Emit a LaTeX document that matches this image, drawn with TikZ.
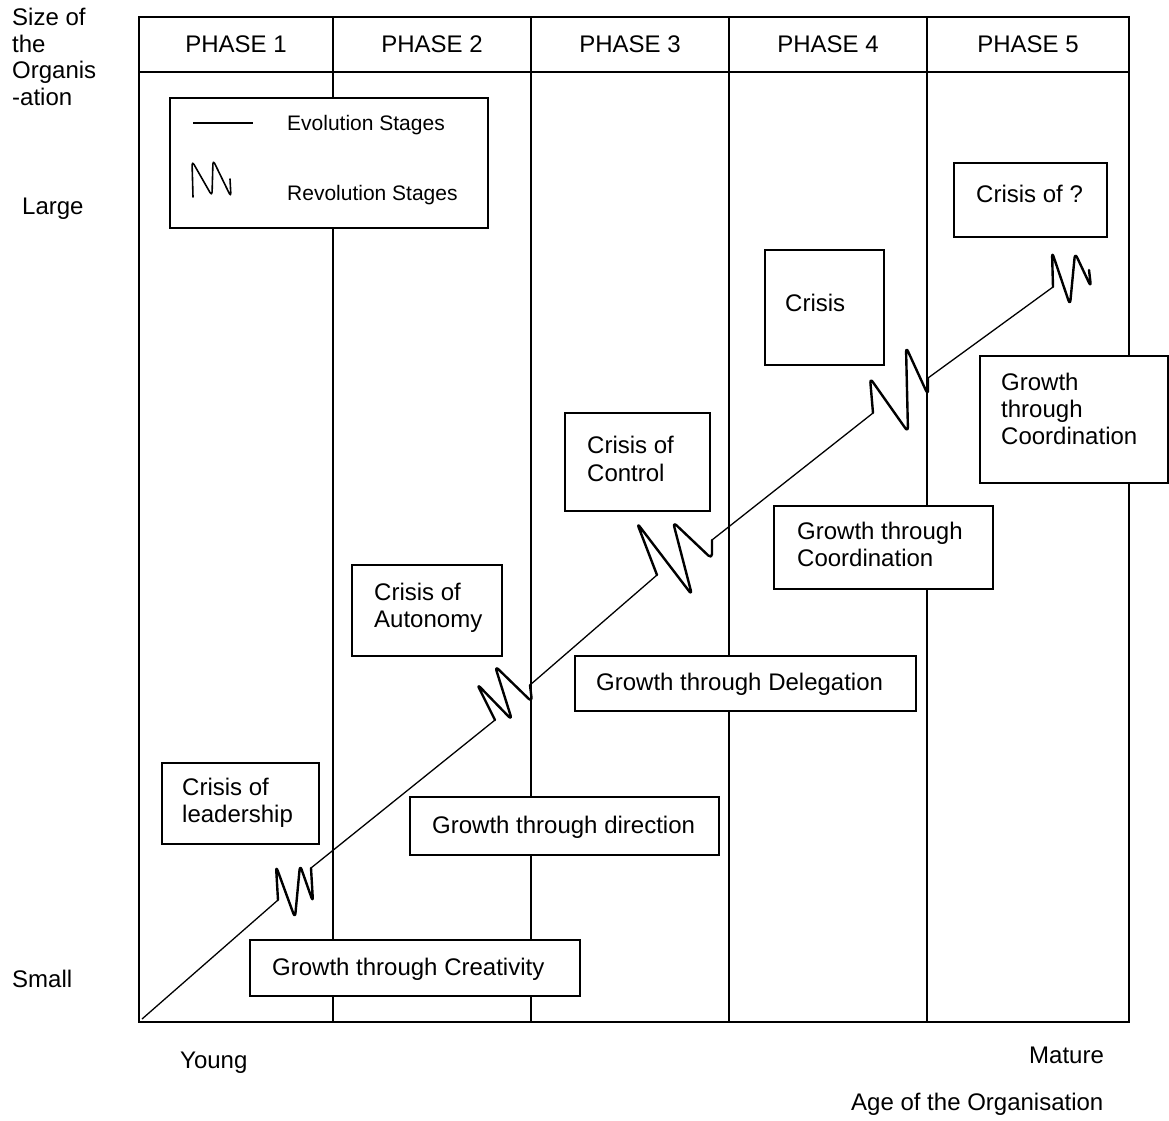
\documentclass[tikz,border=0pt]{standalone}
\usepackage{fontspec}
\setmainfont{Liberation Sans}
\begin{document}
\begin{tikzpicture}[x=1pt,y=-1pt,
  frame/.style={line width=1.4pt},
  box/.style={draw, fill=white, line width=1.4pt, inner sep=0pt, outer sep=0pt, anchor=north west},
  txt/.style={anchor=base west, inner sep=0pt, font=\fontsize{24}{27}\selectfont},
  legtxt/.style={anchor=base west, inner sep=0pt, font=\fontsize{21}{25}\selectfont},
  squig/.style={line width=2.4pt, rounded corners=5pt, line join=round, line cap=round},
  evo/.style={line width=1.3pt}]
\useasboundingbox (0,0) rectangle (1169,1120);
% frame and phases
\draw[frame] (139,17) rectangle (1129,1022);
\draw[frame] (139,72) -- (1129,72);
\foreach \x in {333,531,729,927} \draw[frame] (\x,17) -- (\x,1022);
\node[txt, anchor=base] (p1) at (236,52) {PHASE 1};
\node[txt, anchor=base] (p2) at (432,52) {PHASE 2};
\node[txt, anchor=base] (p3) at (630,52) {PHASE 3};
\node[txt, anchor=base] (p4) at (828,52) {PHASE 4};
\node[txt, anchor=base] (p5) at (1028,52) {PHASE 5};
% axis labels
\node[txt] (s1) at (12,25) {Size of};
\node[txt] (s2) at (12,52) {the};
\node[txt] (s3) at (12,78) {Organis};
\node[txt] (s4) at (12,105) {-ation};
\node[txt] (large) at (22,214) {Large};
\node[txt] (small) at (12,987) {Small};
\node[txt] (young) at (180,1068) {Young};
\node[txt] (mature) at (1029,1063) {Mature};
\node[txt] (age) at (851,1110) {Age of the Organisation};
% legend
\node[box, minimum width=318pt, minimum height=130pt] (legend) at (170,98) {};
\draw[evo] (193,123) -- (253,123);
\draw[line width=1.6pt, rounded corners=4pt, line join=round, line cap=round]
  (193,197) -- (192,161) -- (212,196) -- (213,160) -- (231,197) -- (230,179);
\node[legtxt] (l1) at (287,130) {Evolution Stages};
\node[legtxt] (l2) at (287,200) {Revolution Stages};
% boxes
\node[box, minimum width=153pt, minimum height=74pt] (bq) at (954,163) {};
\node[txt] (bqt) at (976,202) {Crisis of ?};
\node[box, minimum width=119pt, minimum height=115pt] (bc) at (765,250) {};
\node[txt] (bct) at (785,311) {Crisis};
\node[box, minimum width=188pt, minimum height=127pt] (bg5) at (980,356) {};
\node[txt] (bg5a) at (1001,390) {Growth};
\node[txt] (bg5b) at (1001,417) {through};
\node[txt] (bg5c) at (1001,444) {Coordination};
\node[box, minimum width=145pt, minimum height=98pt] (bcc) at (565,413) {};
\node[txt] (bcca) at (587,453) {Crisis of};
\node[txt] (bccb) at (587,481) {Control};
\node[box, minimum width=219pt, minimum height=83pt] (bg4) at (774,506) {};
\node[txt] (bg4a) at (797,539) {Growth through};
\node[txt] (bg4b) at (797,566) {Coordination};
\node[box, minimum width=150pt, minimum height=91pt] (bca) at (352,565) {};
\node[txt] (bcaa) at (374,600) {Crisis of};
\node[txt] (bcab) at (374,627) {Autonomy};
\node[box, minimum width=341pt, minimum height=55pt] (bg3) at (575,656) {};
\node[txt] (bg3t) at (596,690) {Growth through Delegation};
\node[box, minimum width=157pt, minimum height=81pt] (bcl) at (162,763) {};
\node[txt] (bcla) at (182,795) {Crisis of};
\node[txt] (bclb) at (182,822) {leadership};
\node[box, minimum width=309pt, minimum height=58pt] (bg2) at (410,797) {};
\node[txt] (bg2t) at (432,833) {Growth through direction};
\node[box, minimum width=330pt, minimum height=56pt] (bg1) at (250,940) {};
\node[txt] (bg1t) at (272,975) {Growth through Creativity};
% evolution line
\draw[evo] (142,1019) -- (278,900);
\draw[evo] (311,868) -- (495,720);
\draw[evo] (530,685) -- (657,575);
\draw[evo] (712,540) -- (873,413);
\draw[evo] (928,378) -- (1053,287);
% revolution squiggles
\draw[squig] (278,900) -- (276,866) -- (295,918) -- (300,865) -- (313,902) -- (311,868);
\draw[squig] (495,720) -- (477,684) -- (512,720) -- (495,666) -- (532,702) -- (530,685);
\draw[squig] (657,575) -- (637,523) -- (692,595) -- (673,522) -- (712,559) -- (712,540);
\draw[squig] (873,413) -- (870,378) -- (908,432) -- (906,347) -- (928,395) -- (928,378);
\draw[squig] (1053,287) -- (1052,252) -- (1070,305) -- (1075,253) -- (1091,287) -- (1089,270);
\end{tikzpicture}
\end{document}
